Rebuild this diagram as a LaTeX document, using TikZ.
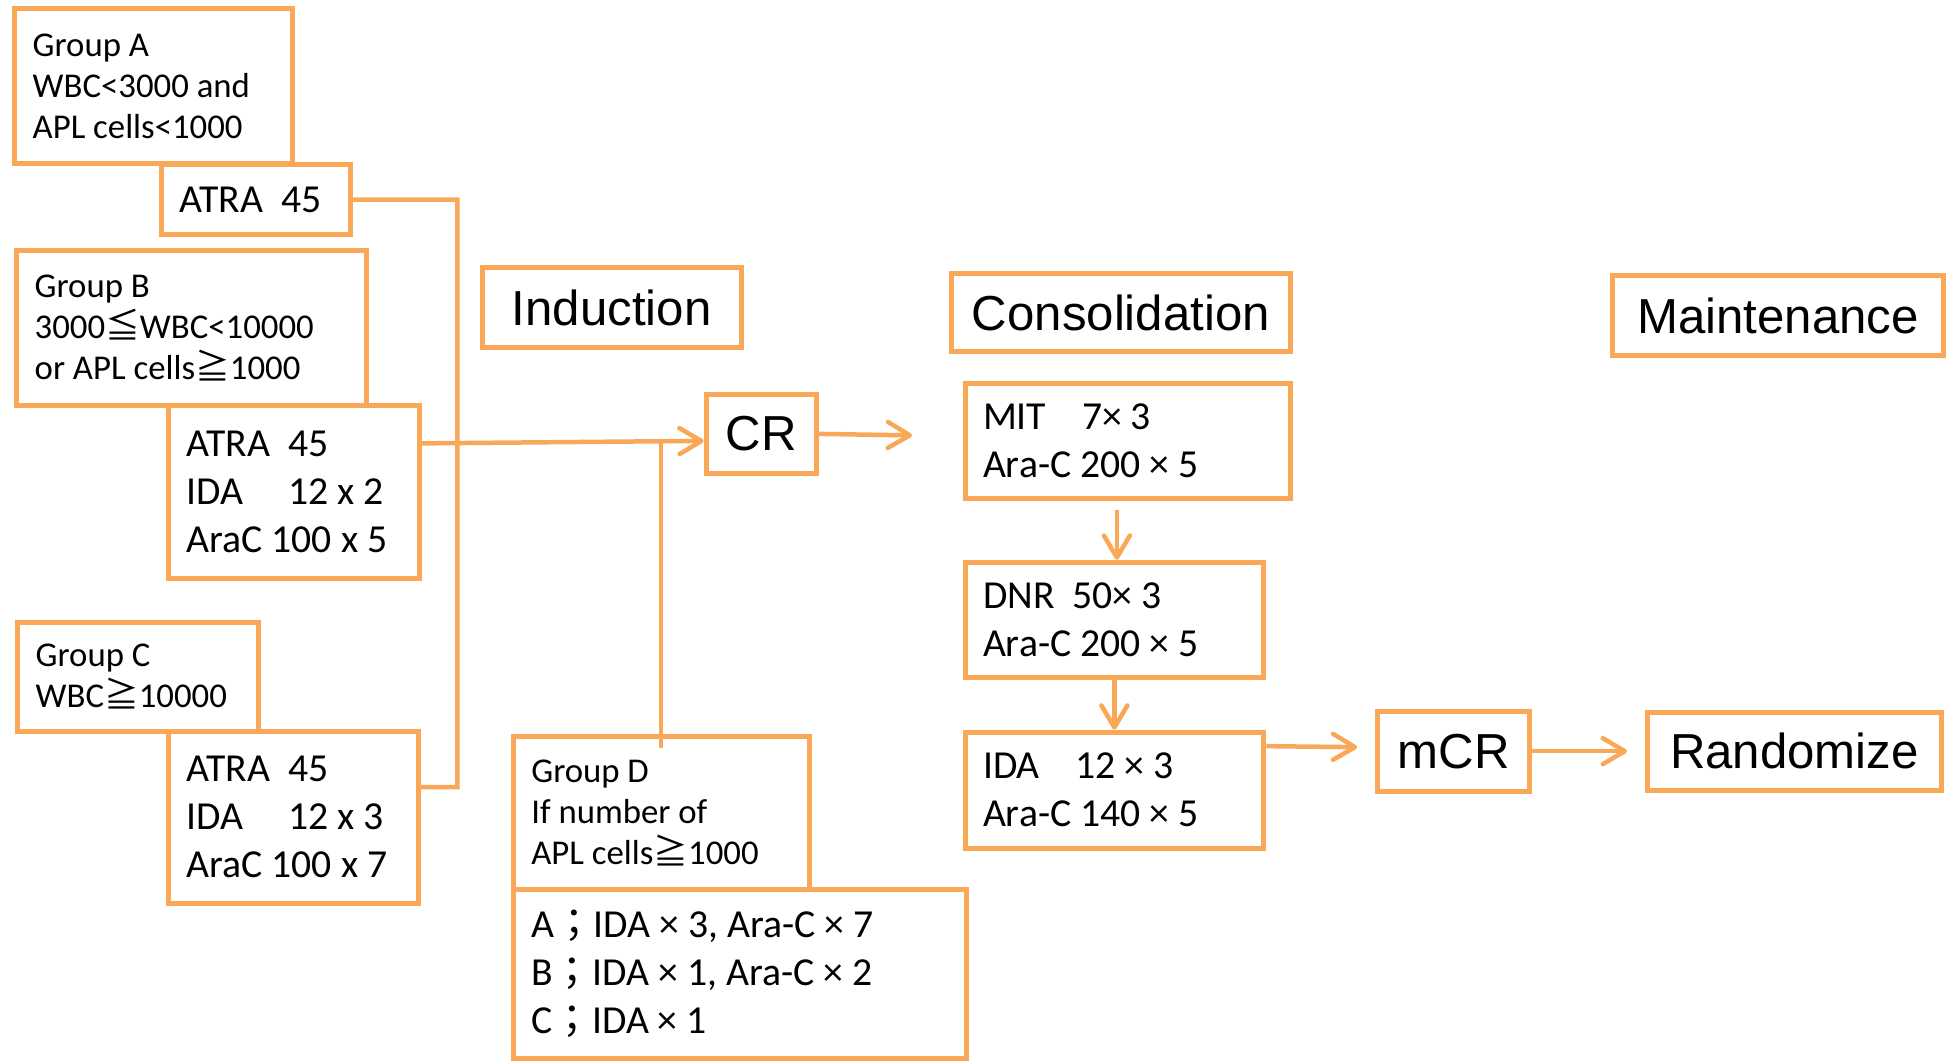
\documentclass[tikz, border = 0pt]{standalone}
\usepackage{fontspec}
\setmainfont{Carlito}
\newfontfamily\phasefamily{Liberation Sans}
\newfontfamily\cjk{Noto Sans CJK JP}
\usepackage{xcolor}
\usepackage{tikz}
\usetikzlibrary{arrows.meta}

\definecolor{boxorange}{HTML}{F9A857}
\newcommand{\groupfont}{\fontsize{9.9pt}{11.7pt}\selectfont}
\newcommand{\drugfont}{\fontsize{11.3pt}{13.6pt}\selectfont}
\newcommand{\phasefont}{\phasefamily\fontsize{14pt}{17pt}\selectfont}
\newcommand{\geqj}{{\cjk ≧}}
\newcommand{\leqj}{{\cjk ≦}}
\newcommand{\semij}{{\cjk ；}}

\tikzset{
    box/.style = {draw = boxorange, line width = 0.5mm, inner sep = 0pt, inner xsep = 1.8mm, align = flush left},
    group/.style = {box, font = \groupfont},
    regimen/.style = {box, font = \drugfont},
    phase/.style = {draw = boxorange, line width = 0.5mm, inner sep = 0pt, font = \phasefont},
    link/.style = {boxorange, line width = 0.45mm},
    flow/.style = {link, -{Straight Barb[length = 2.2mm, width = 2.6mm, round]}}
}

\begin{document}
\begin{tikzpicture}[x = 0.1mm, y = -0.1mm]
    \draw [white, opacity = 0] (0, 0) rectangle (1952, 1062);
    % induction groups
    \node [group, text width = 24.2mm, minimum height = 15.5mm] (grpA) at (153, 85.5) {Group A\\WBC<3000 and\\APL cells<1000};
    \node [regimen, text width = 15.3mm, minimum height = 7mm] (drugA) at (255.5, 199) {ATRA~~45};
    \node [group, text width = 31.4mm, minimum height = 15.5mm] (grpB) at (191, 327.5) {Group B\\3000\leqj WBC<10000\\or APL cells\geqj 1000};
    \node [regimen, text width = 21.5mm, minimum height = 17.3mm] (drugB) at (293.5, 491.5) {ATRA~~45\\IDA~~~~~12 x 2\\AraC 100 x 5};
    \node [group, text width = 20.5mm, minimum height = 10.9mm] (grpC) at (137.5, 676.5) {Group C\\WBC\geqj 10000};
    \node [regimen, text width = 21.4mm, minimum height = 17.2mm] (drugC) at (293, 817) {ATRA~~45\\IDA~~~~~12 x 3\\AraC 100 x 7};
    \node [group, text width = 26mm, minimum height = 15.3mm] (grpD) at (661, 812.5) {Group D\\If number of\\APL cells\geqj 1000};
    \node [regimen, text width = 41.7mm, minimum height = 17mm] (drugD) at (739.5, 974) {A\semij IDA × 3, Ara-C × 7\\B\semij IDA × 1, Ara-C × 2\\C\semij IDA × 1};
    % phases
    \node [phase, minimum width = 25.9mm, minimum height = 8mm] (induction) at (611.5, 307) {Induction};
    \node [phase, minimum width = 34mm, minimum height = 7.8mm] (consol) at (1121, 312) {Consolidation};
    \node [phase, minimum width = 33.1mm, minimum height = 8mm] (maint) at (1778.5, 315) {Maintenance};
    \node [phase, minimum width = 11mm, minimum height = 7.9mm] (CR) at (761, 433.5) {CR};
    \node [phase, minimum width = 15.2mm, minimum height = 8mm] (mCR) at (1454, 751) {mCR};
    \node [phase, minimum width = 29.4mm, minimum height = 7.8mm] (rand) at (1795, 751) {Randomize};
    % consolidation courses
    \node [regimen, text width = 29mm, minimum height = 11.5mm] (mit) at (1128, 440.5) {MIT~~~~7× 3\\Ara-C 200 × 5};
    \node [regimen, text width = 26.3mm, minimum height = 11.5mm] (dnr) at (1114.5, 619.5) {DNR~~50× 3\\Ara-C 200 × 5};
    \node [regimen, text width = 26.3mm, minimum height = 11.6mm] (ida) at (1114.5, 790) {IDA~~~~12 × 3\\Ara-C 140 × 5};
    % connectors
    \coordinate (barbot) at (457, 787);
    \coordinate (dmerge) at (661, 442);
    \coordinate (crout) at (912, 435);
    \draw [link] (drugA.east) -| (barbot) -- ([yshift = 3mm] drugC.east);
    \draw [flow] ([yshift = 4.85mm] drugB.east) -- ([yshift = -0.7mm] CR.west);
    \draw [link] ([yshift = -1.4mm] grpD.north) -- (dmerge);
    \draw [flow] (CR.east) -- (crout);
    \draw [flow] ([xshift = -1.1mm, yshift = -0.9mm] mit.south) -- ([xshift = -1.1mm] mit.south |- dnr.north);
    \draw [flow] (dnr.south) -- (ida.north);
    \draw [flow] ([yshift = 4.4mm] ida.east) -- ([xshift = -1.8mm, yshift = 0.4mm] mCR.west);
    \draw [flow] (mCR.east) -- ([xshift = -1.8mm] rand.west);
\end{tikzpicture}
\end{document}
